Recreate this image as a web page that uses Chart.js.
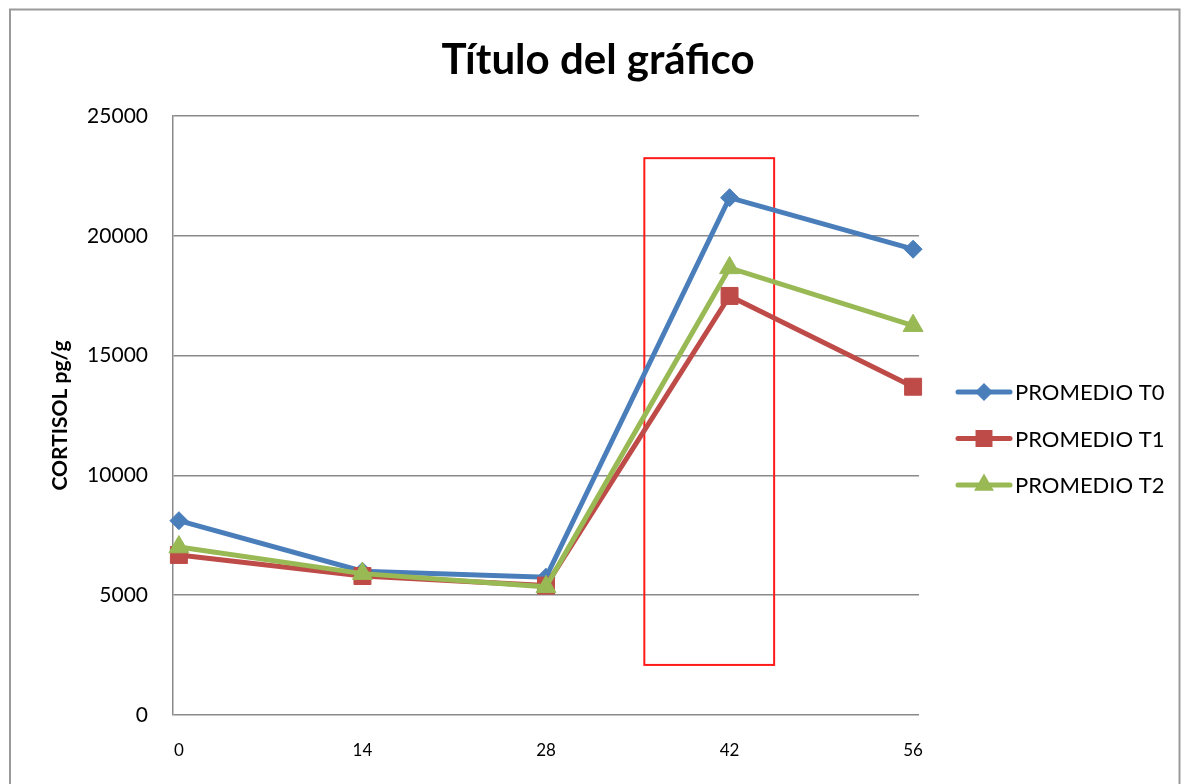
<!DOCTYPE html>
<html lang="es">
<head>
<meta charset="utf-8">
<title>Cortisol</title>
<script src="https://cdn.jsdelivr.net/npm/chart.js@4.4.1/dist/chart.umd.min.js"></script>
<style>
  html, body { margin: 0; padding: 0; background: #ffffff; }
  #grafico { display: block; }
</style>
</head>
<body>
<canvas id="grafico" width="1192" height="784"></canvas>
<script>
// Días de muestreo y promedios de cortisol (pg/g) por tratamiento
const dias = [0, 14, 28, 42, 56];
const promedioT0 = [8110, 6000, 5750, 21590, 19440];
const promedioT1 = [6680, 5800, 5400, 17490, 13700];
const promedioT2 = [7010, 5900, 5350, 18660, 16250];
const nombresSeries = ['PROMEDIO T0', 'PROMEDIO T1', 'PROMEDIO T2'];
const ticksCortisol = [0, 5000, 10000, 15000, 20000, 25000];

const tituloGrafico = 'Título del gráfico';
const tituloEjeY = 'CORTISOL pg/g';

// Recuadro que resalta el día 42 (en unidades de los ejes)
const recuadroDias = [35.5, 45.4];
const recuadroCortisol = [2090, 23240];

const FUENTE = 'Lato, "Open Sans", "DejaVu Sans", sans-serif';
const colores = ['#4A7EBB', '#BE4B48', '#98B954'];
const estilos = ['rectRot', 'rect', 'triangle'];
const radios = [9, 12, 11.5];

function puntos(valores) {
  return dias.map((d, i) => ({ x: d, y: valores[i] }));
}

function trazarMarcador(ctx, estilo, r, x, y) {
  ctx.beginPath();
  if (estilo === 'rectRot') {
    ctx.moveTo(x - r, y); ctx.lineTo(x, y - r); ctx.lineTo(x + r, y); ctx.lineTo(x, y + r);
  } else if (estilo === 'rect') {
    const s = Math.SQRT1_2 * r;
    ctx.rect(x - s, y - s, 2 * s, 2 * s);
  } else {
    let a = 0;
    ctx.moveTo(x + Math.sin(a) * r, y - Math.cos(a) * r);
    a += 2 * Math.PI / 3;
    ctx.lineTo(x + Math.sin(a) * r, y - Math.cos(a) * r);
    a += 2 * Math.PI / 3;
    ctx.lineTo(x + Math.sin(a) * r, y - Math.cos(a) * r);
  }
  ctx.closePath();
  ctx.fill();
}

// Marco exterior y título
const marcoYTitulo = {
  id: 'marcoYTitulo',
  beforeDraw(chart) {
    const ctx = chart.ctx;
    ctx.save();
    ctx.fillStyle = '#ffffff';
    ctx.fillRect(0, 0, chart.width, chart.height);
    ctx.strokeStyle = '#9a9a9a';
    ctx.lineWidth = 2;
    ctx.strokeRect(10, 9.5, chart.width - 22.5, chart.height + 20);
    ctx.restore();
  },
  afterDraw(chart) {
    const ctx = chart.ctx;
    ctx.save();
    ctx.fillStyle = '#000000';
    ctx.font = 'bold 42px ' + FUENTE;
    ctx.textAlign = 'center';
    ctx.textBaseline = 'middle';
    ctx.fillText(tituloGrafico, chart.width / 2 + 2, 60);
    ctx.restore();
  }
};

// Recuadro rojo sobre el día 42
const recuadro = {
  id: 'recuadro',
  beforeDatasetsDraw(chart) {
    const { ctx, scales: { x, y } } = chart;
    const x0 = x.getPixelForValue(recuadroDias[0]);
    const x1 = x.getPixelForValue(recuadroDias[1]);
    const y0 = y.getPixelForValue(recuadroCortisol[1]);
    const y1 = y.getPixelForValue(recuadroCortisol[0]);
    ctx.save();
    ctx.strokeStyle = '#FF1A1A';
    ctx.lineWidth = 2;
    ctx.strokeRect(x0, y0, x1 - x0, y1 - y0);
    ctx.restore();
  }
};

// Leyenda con línea y marcador a la derecha del área de trazado
const leyenda = {
  id: 'leyendaLinea',
  afterDraw(chart) {
    const { ctx, chartArea } = chart;
    const cy = (chartArea.top + chartArea.bottom) / 2 + 23;
    const x0 = chartArea.right + 39;
    ctx.save();
    chart.data.datasets.forEach((ds, i) => {
      const y = cy + (i - 1) * 46.5;
      ctx.strokeStyle = ds.borderColor;
      ctx.lineWidth = 5;
      ctx.lineCap = 'round';
      ctx.beginPath();
      ctx.moveTo(x0, y);
      ctx.lineTo(x0 + 52, y);
      ctx.stroke();
      ctx.fillStyle = ds.borderColor;
      trazarMarcador(ctx, ds.pointStyle, ds.pointRadius, x0 + 26, y);
      ctx.fillStyle = '#000000';
      ctx.font = '22px ' + FUENTE;
      ctx.textAlign = 'left';
      ctx.textBaseline = 'middle';
      ctx.fillText(ds.label, x0 + 57, y + 1);
    });
    ctx.restore();
  }
};

const series = [promedioT0, promedioT1, promedioT2];

new Chart(document.getElementById('grafico'), {
  type: 'line',
  data: {
    datasets: series.map((valores, i) => ({
      label: nombresSeries[i],
      data: puntos(valores),
      borderColor: colores[i],
      backgroundColor: colores[i],
      pointBackgroundColor: colores[i],
      pointBorderColor: colores[i],
      borderWidth: 5,
      pointStyle: estilos[i],
      pointRadius: radios[i],
      pointHoverRadius: radios[i],
      pointBorderWidth: 1,
      tension: 0,
      clip: false,
      order: 3 - i
    }))
  },
  options: {
    responsive: false,
    animation: false,
    layout: { padding: { top: 116, right: 273, left: 0, bottom: 0 } },
    plugins: {
      legend: { display: false },
      title: { display: false },
      tooltip: { enabled: false }
    },
    scales: {
      x: {
        type: 'linear',
        min: -0.45,
        max: 56.45,
        afterBuildTicks(scale) { scale.ticks = dias.map(v => ({ value: v })); },
        afterFit(scale) { scale.height = 69; },
        grid: { display: false, drawTicks: false },
        border: { display: false },
        ticks: {
          padding: 25,
          color: '#000000',
          font: { family: FUENTE, size: 17 },
          maxRotation: 0,
          autoSkip: false,
          callback: (v) => String(v)
        }
      },
      y: {
        min: 0,
        max: 25000,
        afterBuildTicks(scale) { scale.ticks = ticksCortisol.map(v => ({ value: v })); },
        afterFit(scale) { scale.width = 173; },
        grid: { color: '#8a8a8a', lineWidth: 1.5, drawTicks: false },
        border: { display: true, color: '#8a8a8a', width: 1.5 },
        ticks: {
          padding: 25,
          color: '#000000',
          font: { family: FUENTE, size: 21 },
          callback: (v) => String(v)
        },
        title: {
          display: true,
          text: tituloEjeY,
          color: '#000000',
          font: { family: FUENTE, size: 21, weight: 'bold' },
          padding: { top: 48, bottom: 0 }
        }
      }
    }
  },
  plugins: [marcoYTitulo, recuadro, leyenda]
});
</script>
</body>
</html>
